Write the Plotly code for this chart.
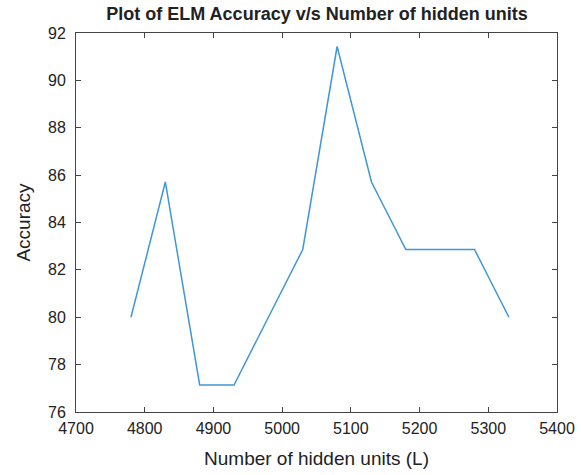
import plotly.graph_objects as go

hidden_units = [4780, 4830, 4880, 4930, 4980, 5030, 5080, 5130, 5180, 5230, 5280, 5330]
accuracy = [80.0, 85.71, 77.14, 77.14, 80.0, 82.86, 91.43, 85.71, 82.86, 82.86, 82.86, 80.0]

x_ticks = [4700, 4800, 4900, 5000, 5100, 5200, 5300, 5400]
y_ticks = [76, 78, 80, 82, 84, 86, 88, 90, 92]

font_family = "Liberation Sans, Arial, sans-serif"

fig = go.Figure(go.Scatter(
    x=hidden_units, y=accuracy, mode="lines",
    line=dict(color="#3f97d4", width=1.5),
))

axis_common = dict(
    showgrid=False, zeroline=False, showline=True, linecolor="#444444", linewidth=1,
    mirror="ticks", ticks="inside", ticklen=5, tickcolor="#444444",
    tickfont=dict(family=font_family, size=16, color="#222222"),
    automargin=False,
)

fig.update_layout(
    width=581, height=475,
    margin=dict(l=76, r=24, t=33, b=63),
    paper_bgcolor="white", plot_bgcolor="white",
    showlegend=False,
    title=dict(text="<b>Plot of ELM Accuracy v/s Number of hidden units</b>",
               x=317 / 581, xanchor="center", y=1 - 14 / 475, yanchor="middle",
               font=dict(family=font_family, size=18, color="#222222")),
    xaxis=dict(range=[4700, 5400], tickvals=x_ticks, ticklabelstandoff=2,
               title=dict(text="Number of hidden units (L)", standoff=15,
                          font=dict(family=font_family, size=19, color="#222222")),
               **axis_common),
    yaxis=dict(range=[76, 92], tickvals=y_ticks, ticklabelstandoff=6,
               title=dict(text="Accuracy", standoff=12,
                          font=dict(family=font_family, size=19, color="#222222")),
               **axis_common),
)

fig.write_html("out.html", config={"displayModeBar": False},
               post_script="document.body.style.margin='0';")
